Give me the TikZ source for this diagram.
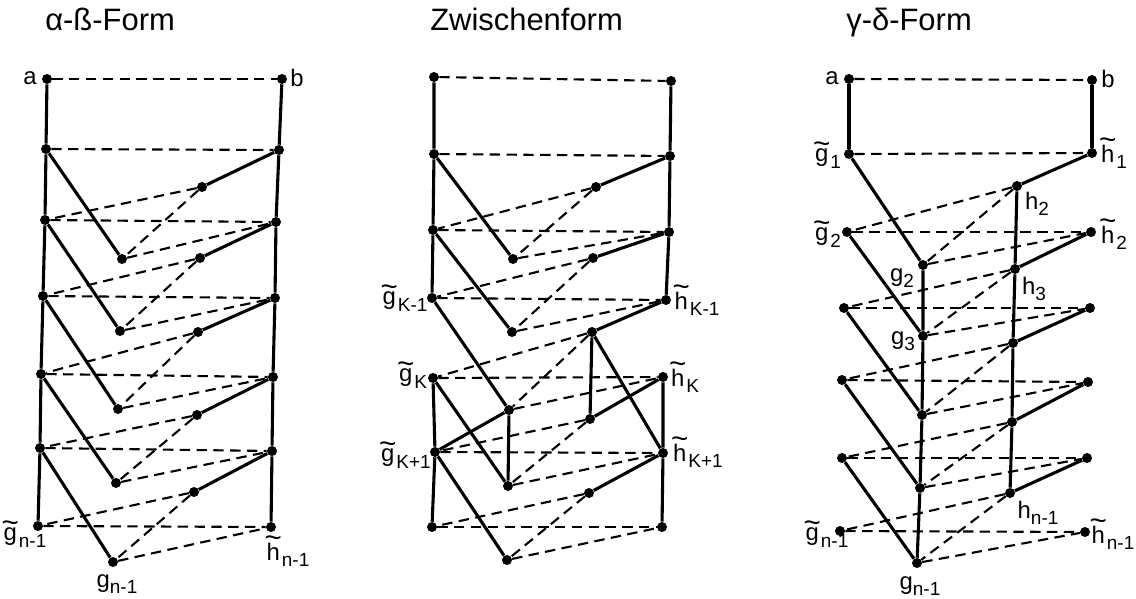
\documentclass[tikz,border=0pt]{standalone}
\usepackage{fontspec}
\setmainfont{Liberation Sans}
\newcommand{\subf}{\fontsize{13.5}{14}\selectfont}
\newcommand{\tildeover}[1]{\leavevmode\vbox{\offinterlineskip
  \halign{\hfil##\hfil\cr\fontsize{21}{21}\selectfont\char"007E\cr\noalign{\kern-3.2pt}#1\cr}}}
\newcommand{\tlab}[2]{\tildeover{#1}\raisebox{-0.5ex}{\subf #2}}
\newcommand{\slab}[2]{#1\raisebox{-0.5ex}{\subf #2}}
% common rungs of one ladder: horizontals, zigzags and the dashed cross links
\newcommand{\rungs}[1]{%
  \foreach \k in {0,...,6} \draw[dsh] (#1A\k) -- (#1B\k);
  \foreach \k in {1,...,5} {%
    \pgfmathtruncatemacro{\j}{\k+1}
    \draw[sol] (#1A\k) -- (#1G\k);
    \draw[sol] (#1B\k) -- (#1M\k);
    \draw[dsh] (#1M\k) -- (#1A\j);
    \draw[dsh] (#1M\k) -- (#1G\k);
    \draw[dsh] (#1G\k) -- (#1B\j);
  }}

\begin{document}
\begin{tikzpicture}[
  x=0.025cm, y=-0.025cm,
  dot/.style={circle, fill=black, inner sep=0pt, minimum size=2.5mm},
  sol/.style={line width=2.2pt},
  dsh/.style={line width=1.5pt, dash pattern=on 2.6mm off 1.6mm},
  lab/.style={font=\fontsize{17}{19}\selectfont, inner sep=0pt},
  ttl/.style={font=\fontsize{22}{25}\selectfont, anchor=base west, inner sep=0pt},
]
\useasboundingbox (0,0) rectangle (1136,598);

% ===== titles =====
\node[ttl] (t1) at (45,30) {α-ß-Form};
\node[ttl] (t2) at (430,30) {Zwischenform};
\node[ttl] (t3) at (846,30) {γ-δ-Form};

% ===== alpha-beta form =====
\foreach \n/\x/\y in {A0/47/79,A1/46/149,A2/45/220,A3/43/296,A4/41/374,A5/40/448,A6/38/526,
  B0/282/79,B1/279/150,B2/276/222,B3/275/298,B4/273/377,B5/272/451,B6/271/527,
  M1/202/187,M2/200/258,M3/198/332,M4/197/415,M5/194/492,
  G1/122/259,G2/120/331,G3/118/409,G4/116/483,G5/113/562}
  \node[dot] (p\n) at (\x,\y) {};
\rungs{p}
\draw[sol] (pA0) -- (pA1) -- (pA2) -- (pA3) -- (pA4) -- (pA5) -- (pA6);
\draw[sol] (pB0) -- (pB1) -- (pB2) -- (pB3) -- (pB4) -- (pB5) -- (pB6);
\node[lab] (pla) at (30,78) {a};
\node[lab] (plb) at (297,78) {b};
\node[lab] (plgt) at (24,534) {\tlab{g}{n-1}};
\node[lab] (plht) at (287,551) {\tlab{h}{n-1}};
\node[lab] (plg) at (117,584) {\slab{g}{n-1}};

% ===== intermediate form =====
\foreach \n/\x/\y in {A0/434/77,A1/434/154,A2/433/230,A3/432/298,A4/433/378,A5/435/452,A6/432/527,
  B0/671/81,B1/670/156,B2/669/232,B3/666/300,B4/663/377,B5/663/453,B6/662/527,
  M1/596/187,M2/593/258,M3/592/332,M4/590/419,M5/589/493,
  G1/513/259,G2/512/332,G3/509/410,G4/508/486,G5/507/560}
  \node[dot] (z\n) at (\x,\y) {};
\rungs{z}
\draw[sol] (zA0) -- (zA1) -- (zA2) -- (zA3);
\draw[sol] (zA4) -- (zA5) -- (zA6);
\draw[sol] (zB0) -- (zB1) -- (zB2) -- (zB3);
\draw[sol] (zB4) -- (zB5) -- (zB6);
\draw[sol] (zM3) -- (zM4);
\draw[sol] (zG3) -- (zG4);
\draw[sol] (zM3) -- (zB5);
\draw[sol] (zA5) -- (zG3);
\node[lab] (zlg3) at (404,298) {\tlab{g}{K-1}};
\node[lab] (zlh3) at (696,300) {\tlab{h}{K-1}};
\node[lab] (zlg4) at (412,375) {\tlab{g}{K}};
\node[lab] (zlh4) at (684,377) {\tlab{h}{K}};
\node[lab] (zlg5) at (405,455) {\tlab{g}{K+1}};
\node[lab] (zlh5) at (697,452) {\tlab{h}{K+1}};

% ===== gamma-delta form =====
\foreach \n/\x/\y in {A0/849/79,A1/849/154,A2/847/232,A3/844/308,A4/842/380,A5/842/458,A6/840/531,
  B0/1092/80,B1/1092/153,B2/1091/232,B3/1090/308,B4/1088/382,B5/1087/458,B6/1085/532,
  M1/1017/186,M2/1015/269,M3/1013/343,M4/1012/422,M5/1010/493,
  G1/923/265,G2/923/336,G3/922/415,G4/920/488,G5/917/563}
  \node[dot] (r\n) at (\x,\y) {};
\rungs{r}
\draw[sol] (rA0) -- (rA1);
\draw[sol] (rB0) -- (rB1);
\draw[sol] (rG1) -- (rG2) -- (rG3) -- (rG4) -- (rG5);
\draw[sol] (rM1) -- (rM2) -- (rM3) -- (rM4) -- (rM5);
\node[lab] (rla) at (832,78) {a};
\node[lab] (rlb) at (1108,79) {b};
\node[lab] (rlg1) at (827,155) {\tlab{g}{1}};
\node[lab] (rlh1) at (1113,153) {\tlab{h}{1}};
\node[lab] (rlm1) at (1037,204) {\slab{h}{2}};
\node[lab] (rlg2) at (827,234) {\tlab{g}{2}};
\node[lab] (rlh2) at (1113,234) {\tlab{h}{2}};
\node[lab] (rlG1) at (902,278) {\slab{g}{2}};
\node[lab] (rlm2) at (1034,289) {\slab{h}{3}};
\node[lab] (rlG2) at (903,341) {\slab{g}{3}};
\node[lab] (rlm5) at (1038,513) {\slab{h}{n-1}};
\node[lab] (rlg6) at (826,534) {\tlab{g}{n-1}};
\node[lab] (rlh6) at (1112,534) {\tlab{h}{n-1}};
\node[lab] (rlG5) at (920,586) {\slab{g}{n-1}};
\end{tikzpicture}
\end{document}
